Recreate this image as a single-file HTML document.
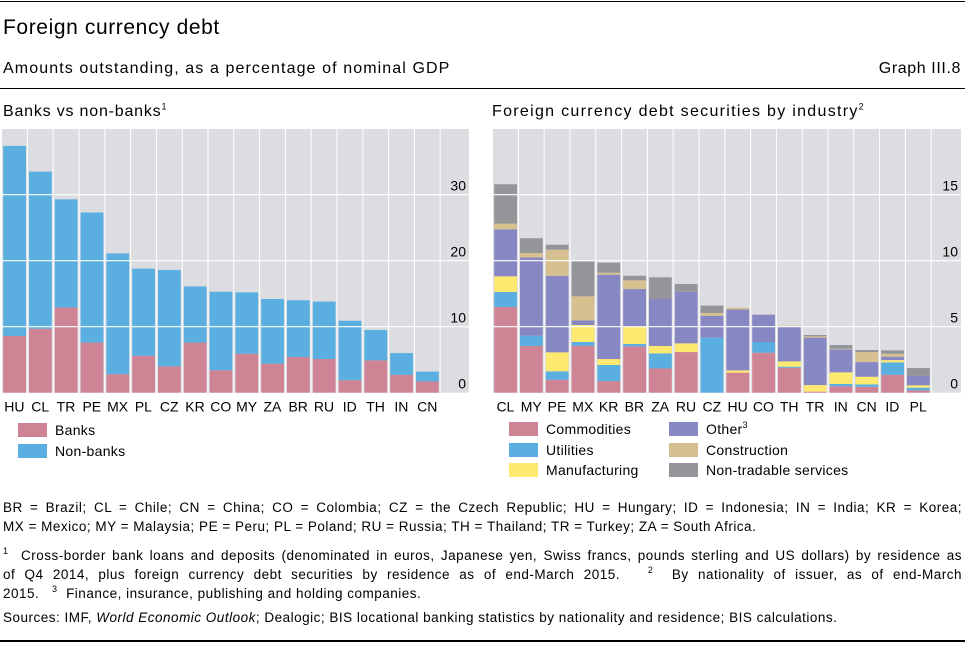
<!DOCTYPE html>
<html><head><meta charset="utf-8"><style>
body{margin:0;width:965px;height:656px;background:#fff;font-family:"Liberation Sans",sans-serif;color:#000;position:relative;overflow:hidden}
.t{position:absolute;white-space:nowrap}
.nl{position:absolute;left:3px;width:959px;font-size:13.5px;line-height:16px;letter-spacing:0.5px;white-space:nowrap;text-align:justify;text-align-last:justify}
.nl.last{text-align-last:left}
.nl sup,.lg sup{font-size:9px;line-height:0;vertical-align:6px}
.lg{position:absolute;font-size:14px;letter-spacing:0.3px;white-space:nowrap}
.lg i{display:inline-block;width:29px;height:14px;margin-right:8px;vertical-align:-2px}
sup{font-size:9px;line-height:0}
</style></head><body>
<div class="t" style="left:0;top:1px;width:965px;height:1px;background:#000"></div>
<div class="t" style="left:3px;top:16px;font-size:21px;letter-spacing:0.6px">Foreign currency debt</div>
<div class="t" style="left:3px;top:60px;font-size:16px;letter-spacing:1.1px">Amounts outstanding, as a percentage of nominal GDP</div>
<div class="t" style="right:4px;top:60px;font-size:16px;letter-spacing:0.6px">Graph III.8</div>
<div class="t" style="left:0;top:88px;width:965px;height:1px;background:#000"></div>
<div class="t" style="left:3px;top:103px;font-size:16px;letter-spacing:0.8px">Banks vs non-banks<sup>1</sup></div>
<div class="t" style="left:492px;top:103px;font-size:16px;letter-spacing:1.3px">Foreign currency debt securities by industry<sup>2</sup></div>
<svg id="svg" width="965" height="420" style="position:absolute;left:0;top:0" font-family="Liberation Sans, sans-serif"></svg>
<div class="lg" style="left:18px;top:422px"><i style="background:#cf8496"></i>Banks</div>
<div class="lg" style="left:18px;top:443px"><i style="background:#5aafe0"></i>Non-banks</div>
<div class="lg" style="left:509px;top:421px"><i style="background:#cf8496"></i>Commodities</div>
<div class="lg" style="left:509px;top:442px"><i style="background:#5aafe0"></i>Utilities</div>
<div class="lg" style="left:509px;top:462px"><i style="background:#fde870"></i>Manufacturing</div>
<div class="lg" style="left:669px;top:421px"><i style="background:#8787c3"></i>Other<sup>3</sup></div>
<div class="lg" style="left:669px;top:442px"><i style="background:#d6c08f"></i>Construction</div>
<div class="lg" style="left:669px;top:462px"><i style="background:#939598"></i>Non-tradable services</div>
<div class="nl" style="top:500px">BR = Brazil; CL = Chile; CN = China; CO = Colombia; CZ = the Czech Republic; HU = Hungary; ID = Indonesia; IN = India; KR = Korea;</div>
<div class="nl last" style="top:519px">MX = Mexico; MY = Malaysia; PE = Peru; PL = Poland; RU = Russia; TH = Thailand; TR = Turkey; ZA = South Africa.</div>
<div class="nl" style="top:548px"><sup>1</sup>&nbsp; Cross-border bank loans and deposits (denominated in euros, Japanese yen, Swiss francs, pounds sterling and US dollars) by residence as</div>
<div class="nl" style="top:567px">of Q4 2014, plus foreign currency debt securities by residence as of end-March 2015.&nbsp;&nbsp; <sup>2</sup>&nbsp; By nationality of issuer, as of end-March</div>
<div class="nl last" style="top:586px">2015.&nbsp;&nbsp; <sup>3</sup>&nbsp; Finance, insurance, publishing and holding companies.</div>
<div class="nl last" style="top:610px">Sources: IMF, <i>World Economic Outlook</i>; Dealogic; BIS locational banking statistics by nationality and residence; BIS calculations.</div>
<div class="t" style="left:0;top:640px;width:965px;height:2px;background:#000"></div>
<script>
const leftCats=["HU","CL","TR","PE","MX","PL","CZ","KR","CO","MY","ZA","BR","RU","ID","TH","IN","CN"];
const leftTotal=[37.4,33.5,29.3,27.3,21.1,18.8,18.6,16.1,15.3,15.2,14.2,14.0,13.8,10.9,9.5,6.0,3.2];
const leftBanks=[8.6,9.7,12.9,7.6,2.8,5.6,4.0,7.6,3.4,5.9,4.4,5.4,5.1,1.9,4.9,2.7,1.7];
const leftTicks=[0,10,20,30];
const rightCats=["CL","MY","PE","MX","KR","BR","ZA","RU","CZ","HU","CO","TH","TR","IN","CN","ID","PL"];
const commodities=[6.5,3.54,0.98,3.56,0.88,3.51,1.84,3.08,0,1.52,3.03,1.89,0.08,0.48,0.45,1.36,0.18];
const utilities=[1.13,0.78,0.64,0.28,1.22,0.18,1.14,0,4.17,0,0.81,0.08,0,0.18,0.18,0.94,0.2];
const manufacturing=[1.19,0,1.44,1.29,0.45,1.31,0.56,0.66,0,0.17,0,0.4,0.5,0.88,0.58,0.17,0.18];
const other=[3.56,5.93,5.8,0.35,6.39,2.85,3.56,3.91,1.66,4.62,2.07,2.66,3.59,1.74,1.11,0.26,0.73];
const construction=[0.43,0.33,1.97,1.82,0.15,0.66,0,0,0.21,0.13,0,0.05,0.1,0.05,0.76,0.22,0];
const nontradable=[2.98,1.12,0.38,2.65,0.76,0.35,1.64,0.58,0.56,0,0,0,0.1,0.28,0.15,0.26,0.58];
const rightTicks=[0,5,10,15];
const NS="http://www.w3.org/2000/svg";
const svg=document.getElementById('svg');
function mk(tag,attrs){const e=document.createElementNS(NS,tag);for(const k in attrs)e.setAttribute(k,attrs[k]);svg.appendChild(e);return e;}
function panel(x0,x1,top,base,perUnit,cats,ticks,series,colors,names,prefix){
  const slot=25.8;
  const y=v=>base-v*perUnit;
  const bg=mk('rect',{x:x0,y:top,width:x1-x0,height:base-top,fill:'#dcdde0'});
  
  
  cats.forEach((c,i)=>{
    const bx=x0+i*slot+1.2, bw=slot-3;
    let acc=0;
    series.forEach((s,k)=>{
      const v=s[i]; if(v<=0)return;
      const r=mk('rect',{x:bx,y:y(acc+v),width:bw,height:v*perUnit,fill:colors[k]});
      
      
      acc+=v;
    });
    const t=mk('text',{x:x0+i*slot+slot/2-0.5,y:base+19,'font-size':14,'text-anchor':'middle'});
    t.textContent=c;
    
    
  });
  for(let i=1;i<=cats.length;i++){
    const l=mk('line',{x1:x0+i*slot-0.4,x2:x0+i*slot-0.4,y1:top,y2:base,stroke:'#fff','stroke-width':1});
    
    
  }
  ticks.forEach(tv=>{
    if(tv>0){const g=mk('line',{x1:x0,x2:x1,y1:y(tv),y2:y(tv),stroke:'#fff','stroke-width':1.2});
    
    }
    const t=mk('text',{x:x1-3,y:y(tv)-4,'font-size':14,'text-anchor':'end'});
    t.textContent=tv;
    
    
  });
}
const bank=leftBanks, nonbank=leftTotal.map((t,i)=>t-leftBanks[i]);
panel(2,469,129,392.7,6.6,leftCats,leftTicks,[bank,nonbank],['#cf8496','#5aafe0'],['banks','non-banks'],'left');
panel(493,961,129,392.7,13.2,rightCats,rightTicks,[commodities,utilities,manufacturing,other,construction,nontradable],
 ['#cf8496','#5aafe0','#fde870','#8787c3','#d6c08f','#939598'],['commodities','utilities','manufacturing','other','construction','non-tradable'],'right');
</script>
</body></html>
